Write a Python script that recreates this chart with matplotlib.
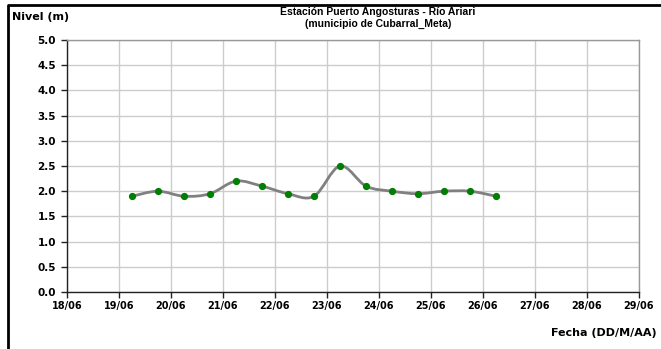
import matplotlib
matplotlib.use("Agg")
import matplotlib.pyplot as plt
import matplotlib.dates as mdates
from matplotlib.path import Path
from matplotlib.patches import PathPatch
from matplotlib.lines import Line2D
import numpy as np
from datetime import datetime

plt.rcParams['font.family'] = ['DejaVu Sans']

# datos
fechas = ["2010-06-19 06:00", "2010-06-19 18:00", "2010-06-20 06:00", "2010-06-20 18:00",
          "2010-06-21 06:00", "2010-06-21 18:00", "2010-06-22 06:00", "2010-06-22 18:00",
          "2010-06-23 06:00", "2010-06-23 18:00", "2010-06-24 06:00", "2010-06-24 18:00",
          "2010-06-25 06:00", "2010-06-25 18:00", "2010-06-26 06:00"]
nivel = [1.9, 2.0, 1.9, 1.95, 2.2, 2.1, 1.95, 1.9, 2.5, 2.1, 2.0, 1.95, 2.0, 2.0, 1.9]
dias = ["18/06", "19/06", "20/06", "21/06", "22/06", "23/06",
        "24/06", "25/06", "26/06", "27/06", "28/06", "29/06"]

x = mdates.date2num([datetime.strptime(f, "%Y-%m-%d %H:%M") for f in fechas])
y = np.array(nivel)
xt = mdates.date2num([datetime(2010, 6, int(d[:2])) for d in dias])

fig = plt.figure(figsize=(6.61, 3.49), dpi=100)
ax = fig.add_axes([67/661, 1-292/349, (639-67)/661, (292-40)/349])

# linea suavizada tipo Excel (bezier)
verts = [(x[0], y[0])]
codes = [Path.MOVETO]
n = len(x)
for i in range(n-1):
    p0 = np.array([x[max(i-1, 0)], y[max(i-1, 0)]])
    p1 = np.array([x[i], y[i]])
    p2 = np.array([x[i+1], y[i+1]])
    p3 = np.array([x[min(i+2, n-1)], y[min(i+2, n-1)]])
    c1 = p1 + (p2 - p0) / 6
    c2 = p2 - (p3 - p1) / 6
    verts += [tuple(c1), tuple(c2), tuple(p2)]
    codes += [Path.CURVE4] * 3
ax.add_patch(PathPatch(Path(verts, codes), facecolor='none', edgecolor='#808080', lw=2, zorder=3))
ax.plot(x, y, 'o', color='#008000', ms=4.2, zorder=4)

ax.set_xlim(xt[0], xt[-1])
ax.set_ylim(0, 5)
ax.set_xticks(xt)
ax.set_xticklabels(dias)
ax.set_yticks(np.arange(0, 5.01, 0.5))
ax.set_yticklabels([f"{v:.1f}" for v in np.arange(0, 5.01, 0.5)])
ax.grid(True, color='#cccccc', lw=1)
ax.set_axisbelow(True)
for s in ['left', 'bottom']:
    ax.spines[s].set_color('#222222')
    ax.spines[s].set_linewidth(1)
for s in ['top', 'right']:
    ax.spines[s].set_color('#999999')
    ax.spines[s].set_linewidth(1)
ax.tick_params(axis='both', length=4, width=1, color='#222222', labelsize=7, pad=2.5)
ax.tick_params(axis='y', labelsize=7.5, pad=4)
for lab in ax.get_xticklabels() + ax.get_yticklabels():
    lab.set_fontweight('bold')

fig.text(378/661, 1-12/349, "Estación Puerto Angosturas - Río Ariari", ha='center', va='center',
         fontsize=7.5, fontweight='bold', family='Liberation Sans')
fig.text(378/661, 1-24/349, "(municipio de Cubarral_Meta)", ha='center', va='center',
         fontsize=7.5, fontweight='bold', family='Liberation Sans')
fig.text(12/661, 1-17/349, "Nivel (m)", ha='left', va='center', fontsize=8, fontweight='bold')
fig.text(657/661, 1-333/349, "Fecha (DD/M/AA)", ha='right', va='center', fontsize=8, fontweight='bold')

# marco exterior
fig.add_artist(Line2D([8/661, 8/661, 1], [0, 1-5/349, 1-5/349], transform=fig.transFigure,
                      color='black', lw=2))

fig.savefig("out.png", dpi=100)
